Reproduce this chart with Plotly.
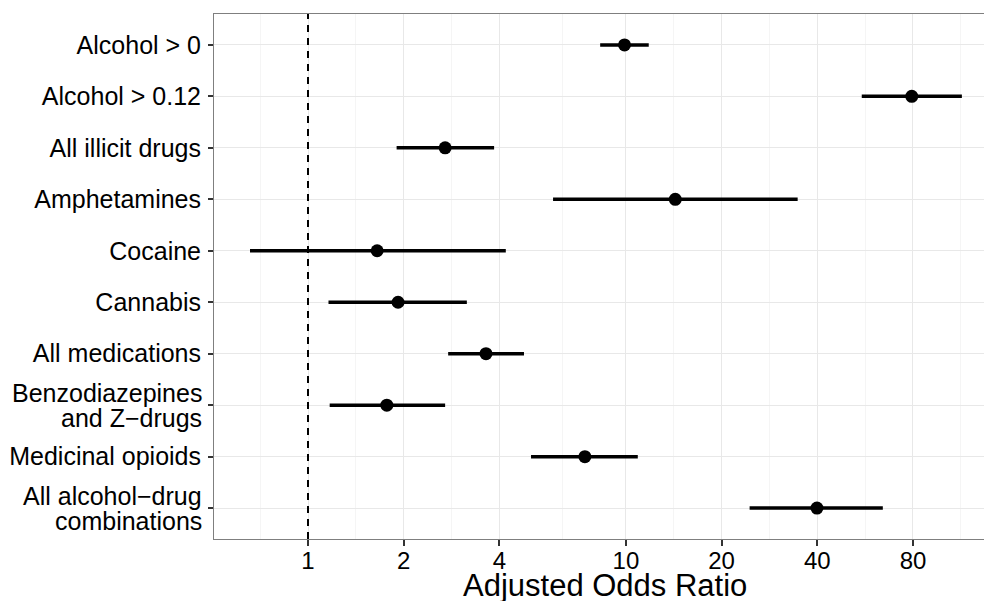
import plotly.graph_objects as go

categories = [
    "Alcohol > 0",
    "Alcohol > 0.12",
    "All illicit drugs",
    "Amphetamines",
    "Cocaine",
    "Cannabis",
    "All medications",
    "Benzodiazepines<br>and Z\u2212drugs",
    "Medicinal opioids",
    "All alcohol\u2212drug<br>combinations",
]
odds_ratio = [9.9, 79.3, 2.70, 14.3, 1.65, 1.92, 3.63, 1.77, 7.43, 39.9]
ci_low = [8.3, 55.2, 1.90, 5.9, 0.657, 1.16, 2.76, 1.17, 5.03, 24.5]
ci_high = [11.8, 114.0, 3.85, 34.7, 4.19, 3.16, 4.78, 2.70, 10.9, 64.3]

x_ticks = [1, 2, 4, 10, 20, 40, 80]
x_minor = [0.7071, 1.4142, 2.8284, 6.3246, 14.142, 28.284, 56.569, 113.14]
x_title = "Adjusted Odds Ratio"

err_plus = [h - m for h, m in zip(ci_high, odds_ratio)]
err_minus = [m - l for m, l in zip(odds_ratio, ci_low)]

font_family = "Liberation Sans, Arial, sans-serif"
label_size = 25

fig = go.Figure()
fig.add_trace(go.Scatter(
    x=odds_ratio, y=categories, mode="markers",
    marker=dict(color="black", size=13),
    error_x=dict(type="data", symmetric=False, array=err_plus, arrayminus=err_minus,
                 color="black", thickness=3.5, width=0),
    showlegend=False,
))

fig.add_shape(type="line", xref="x", yref="paper", x0=1, x1=1, y0=0, y1=1,
              line=dict(color="black", width=2, dash="7px,6px"), layer="above")

# multi-line category labels drawn as tight two-line annotations
tick_text = []
for c in categories:
    if "<br>" in c:
        tick_text.append("")
        lines = c.split("<br>")
        for i, ln in enumerate(lines):
            fig.add_annotation(
                xref="paper", yref="y", x=0, y=c, text=ln, showarrow=False,
                xanchor="right", yanchor="middle", xshift=-10,
                yshift=12.5 if i == 0 else -12.5,
                font=dict(size=label_size, color="black", family=font_family),
            )
    else:
        tick_text.append(c)

# x-axis title (panel is cropped on the right in the original, so centre it explicitly)
fig.add_annotation(
    xref="paper", yref="paper", x=(605 - 214) / (984 - 214), y=-0.0895,
    text=x_title, showarrow=False, xanchor="center", yanchor="middle",
    font=dict(size=31, color="black", family=font_family),
)

fig.update_layout(
    width=984, height=601,
    margin=dict(l=214, r=0, t=14, b=62),
    paper_bgcolor="white", plot_bgcolor="white",
    font=dict(family=font_family, color="black"),
    xaxis=dict(
        type="log",
        range=[-0.2957, 2.1265],
        tickmode="array", tickvals=x_ticks, ticktext=[str(v) for v in x_ticks],
        tickfont=dict(size=24, color="black"),
        ticks="outside", ticklen=6, tickcolor="#333333", tickwidth=2,
        ticklabelstandoff=-6,
        showgrid=True, gridcolor="#e8e8e8", gridwidth=1,
        minor=dict(tickmode="array", tickvals=x_minor, showgrid=True,
                   gridcolor="#f5f5f5", gridwidth=1, ticks=""),
        showline=True, linecolor="#7f7f7f", linewidth=1, mirror=True,
        zeroline=False,
    ),
    yaxis=dict(
        type="category",
        categoryorder="array", categoryarray=categories,
        tickmode="array", tickvals=categories, ticktext=tick_text,
        range=[9.6, -0.6],
        tickfont=dict(size=label_size, color="black"),
        ticks="outside", ticklen=5, tickcolor="#333333", tickwidth=2,
        ticklabelstandoff=2,
        showgrid=True, gridcolor="#e8e8e8", gridwidth=1,
        showline=True, linecolor="#7f7f7f", linewidth=1, mirror=False,
        zeroline=False,
    ),
)

fig.write_html("out.html", config={"displayModeBar": False},
               post_script="document.body.style.margin='0px';")
